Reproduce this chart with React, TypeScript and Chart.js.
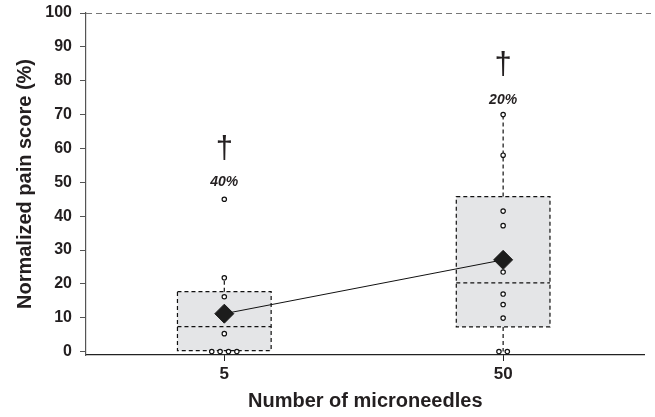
import React, { useEffect, useRef } from "react";
import { Chart, registerables } from "chart.js";

Chart.register(...registerables);

const categories = ["5", "50"];
const yTickValues = [0, 10, 20, 30, 40, 50, 60, 70, 80, 90, 100];
const q1Values = [0.3, 7.3];
const q3Values = [17.7, 45.8];
const medianValues = [7.4, 20.3];
const meanValues = [11.2, 27.1];
const whiskerLow = [0.3, 0];
const whiskerHigh = [21.8, 70.2];
const points5 = [45, 21.8, 16.2, 5.3, 0, 0, 0, 0];
const points50 = [70, 58, 41.5, 37.2, 23.5, 17, 13.9, 9.9, 0, 0];
const percentLabels = ["40%", "20%"];
const percentLabelY = [50, 74.3];
const daggerY = [59.6, 84.4];

const FONT = "'Liberation Sans', Arial, Helvetica, sans-serif";
const TEXT = "#231f20";
const BOX_HALF = 0.168;
const JITTER = 0.03;

function jittered(values: number[], cat: number) {
  const counts: Record<string, number> = {};
  values.forEach((v) => (counts[v] = (counts[v] || 0) + 1));
  const seen: Record<string, number> = {};
  return values.map((v) => {
    const n = counts[v];
    const i = seen[v] || 0;
    seen[v] = i + 1;
    return { x: cat + (i - (n - 1) / 2) * JITTER, y: v };
  });
}

const boxPlugin = {
  id: "boxPlugin",
  beforeDatasetsDraw(chart: any) {
    const { ctx, scales, chartArea } = chart;
    const xs = scales.x;
    const ys = scales.y;
    ctx.save();
    ctx.strokeStyle = "#777";
    ctx.lineWidth = 1;
    ctx.setLineDash([6, 4]);
    const y100 = Math.round(ys.getPixelForValue(100)) + 0.5;
    ctx.beginPath();
    ctx.moveTo(chartArea.left, y100);
    ctx.lineTo(chart.width - 4, y100);
    ctx.stroke();

    categories.forEach((_, i) => {
      const xl = xs.getPixelForValue(i - BOX_HALF);
      const xr = xs.getPixelForValue(i + BOX_HALF);
      const xc = xs.getPixelForValue(i);
      const yq1 = ys.getPixelForValue(q1Values[i]);
      const yq3 = ys.getPixelForValue(q3Values[i]);
      const ym = ys.getPixelForValue(medianValues[i]);
      const ywl = ys.getPixelForValue(whiskerLow[i]);
      const ywh = ys.getPixelForValue(whiskerHigh[i]);
      ctx.setLineDash([]);
      ctx.fillStyle = "#e4e5e7";
      ctx.fillRect(xl, yq3, xr - xl, yq1 - yq3);
      ctx.setLineDash([4, 3]);
      ctx.strokeStyle = "#111";
      ctx.lineWidth = 1.2;
      ctx.strokeRect(xl, yq3, xr - xl, yq1 - yq3);
      ctx.beginPath();
      ctx.moveTo(xl, ym);
      ctx.lineTo(xr, ym);
      ctx.moveTo(xc, yq3);
      ctx.lineTo(xc, ywh);
      if (ywl > yq1 + 1) {
        ctx.moveTo(xc, yq1);
        ctx.lineTo(xc, ywl);
      }
      ctx.stroke();
    });
    ctx.restore();
  },
  afterDatasetsDraw(chart: any) {
    const { ctx, scales } = chart;
    ctx.save();
    ctx.fillStyle = TEXT;
    ctx.textAlign = "center";
    ctx.textBaseline = "middle";
    categories.forEach((_, i) => {
      const xc = scales.x.getPixelForValue(i);
      ctx.font = `bold italic 14px ${FONT}`;
      ctx.fillText(percentLabels[i], xc, scales.y.getPixelForValue(percentLabelY[i]));
      ctx.font = `31px ${FONT}`;
      ctx.fillText("\u2020", xc, scales.y.getPixelForValue(daggerY[i]));
    });
    ctx.restore();
  },
};

export default function App() {
  const ref = useRef<HTMLCanvasElement>(null);
  useEffect(() => {
    document.body.style.margin = "0";
    const pts = [...jittered(points5, 0), ...jittered(points50, 1)];
    const chart = new Chart(ref.current!, {
      type: "scatter",
      data: {
        datasets: [
          {
            type: "scatter",
            data: pts,
            pointRadius: 2.2,
            pointBorderWidth: 1.2,
            pointBorderColor: "#111",
            pointBackgroundColor: "#fff",
            order: 2,
          } as any,
          {
            type: "line",
            data: meanValues.map((v, i) => ({ x: i, y: v })),
            borderColor: "#111",
            borderWidth: 1,
            pointStyle: "rectRot",
            pointRadius: 9.5,
            pointBackgroundColor: "#1c1c1c",
            pointBorderColor: "#1c1c1c",
            pointBorderWidth: 1,
            order: 1,
          } as any,
        ],
      },
      options: {
        animation: false,
        responsive: false,
        maintainAspectRatio: false,
        layout: { padding: { top: 13, right: 8, left: 0, bottom: 0 } },
        plugins: { legend: { display: false }, tooltip: { enabled: false } },
        scales: {
          x: {
            type: "linear",
            min: -0.496,
            max: 1.507,
            afterBuildTicks: (s: any) => {
              s.ticks = categories.map((_, i) => ({ value: i }));
            },
            afterFit: (s: any) => {
              s.height = 62;
              s.paddingLeft = 0;
              s.paddingRight = 0;
            },
            ticks: {
              callback: (v: any) => categories[v as number],
              color: TEXT,
              font: { family: FONT, size: 17, weight: "bold" },
              padding: 3,
            },
            grid: { drawOnChartArea: false, tickLength: 6, color: "#222" },
            border: { color: "#222", width: 1.2 },
            title: {
              display: true,
              text: "Number of microneedles",
              color: TEXT,
              font: { family: FONT, size: 20, weight: "bold" },
              padding: { top: 4, bottom: 4 },
            },
          },
          y: {
            type: "linear",
            min: -1,
            max: 100,
            afterBuildTicks: (s: any) => {
              s.ticks = yTickValues.map((v) => ({ value: v }));
            },
            afterFit: (s: any) => {
              s.width = 86;
              s.paddingTop = 0;
              s.paddingBottom = 0;
            },
            ticks: {
              color: TEXT,
              font: { family: FONT, size: 16, weight: "bold" },
              padding: 8,
            },
            grid: { drawOnChartArea: false, tickLength: 6, color: "#555" },
            border: { color: "#555", width: 1.2 },
            title: {
              display: true,
              text: "Normalized pain score (%)",
              color: TEXT,
              font: { family: FONT, size: 20, weight: "bold" },
              padding: { top: 13, bottom: 2 },
            },
          },
        },
      },
      plugins: [boxPlugin],
    });
    return () => chart.destroy();
  }, []);
  return (
    <div style={{ position: "relative", width: 655, height: 417 }}>
      <canvas ref={ref} width={655} height={417} style={{ width: 655, height: 417 }} />
    </div>
  );
}
